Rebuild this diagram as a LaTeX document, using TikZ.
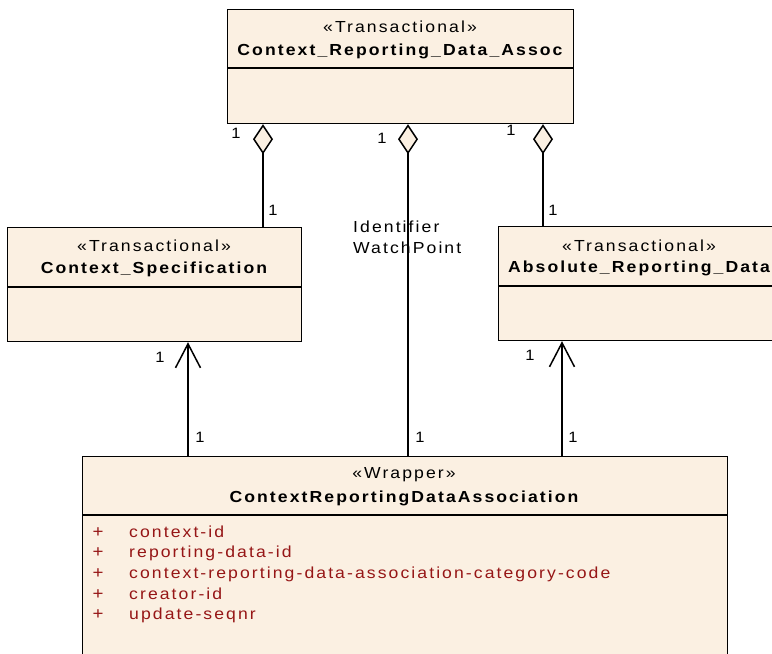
\documentclass[tikz,border=0pt]{standalone}
\usepackage{fontspec}
\setmainfont{Liberation Sans}[LetterSpace=13,FakeStretch=1.1]
\usetikzlibrary{arrows.meta,calc}
\definecolor{boxfill}{RGB}{251,240,226}
\definecolor{attr}{RGB}{150,22,22}
\begin{document}
\begin{tikzpicture}[x=1pt,y=-1pt,
  box/.style={draw, line width=1.2pt, fill=boxfill, inner sep=0pt, anchor=north west},
  sep/.style={line width=1.2pt},
  txt/.style={inner sep=0pt, anchor=base, font=\fontsize{16}{19}\selectfont},
  bold/.style={inner sep=0pt, anchor=base, font=\fontsize{16}{19}\selectfont\bfseries},
  mult/.style={inner sep=0pt, font=\fontsize{15}{18}\selectfont},
  attrtxt/.style={inner sep=0pt, anchor=base west, text=attr, font=\fontsize{16}{19}\selectfont},
  plus/.style={inner sep=0pt, anchor=base, text=attr, font=\fontsize{17}{19}\selectfont},
  agg/.style={line width=1.5pt, -{Diamond[length=30pt,width=20pt,fill=boxfill]}},
  nav/.style={line width=1.5pt, -{Straight Barb[length=24pt,width=25pt]}}]
\useasboundingbox (0,0) rectangle (772,654);
\clip (0,0) rectangle (772,654);
% boxes
\node[box, minimum width=346pt, minimum height=114pt] (top) at (227,9) {};
\node[box, minimum width=294pt, minimum height=114pt] (cs) at (7,227) {};
\node[box, minimum width=282pt, minimum height=114pt] (ard) at (498,226) {};
\node[box, minimum width=645pt, minimum height=220pt] (wr) at (82,456) {};
% separators
\draw[sep] (top.west |- 0,68) -- (top.east |- 0,68);
\draw[sep] (cs.west |- 0,287) -- (cs.east |- 0,287);
\draw[sep] (ard.west |- 0,286) -- (ard.east |- 0,286);
\draw[sep] (wr.west |- 0,515) -- (wr.east |- 0,515);
% texts
\node[txt] (topst) at (400,32) {«Transactional»};
\node[bold] (topnm) at (400,55) {Context\_Reporting\_Data\_Assoc};
\node[txt] (csst) at (154,251) {«Transactional»};
\node[bold] (csnm) at (154,273) {Context\_Specification};
\node[txt] (ardst) at (639,251) {«Transactional»};
\node[bold] (ardnm) at (639,272) {Absolute\_Reporting\_Data};
\node[txt] (wrst) at (404,478) {«Wrapper»};
\node[bold] (wrnm) at (404,502) {ContextReportingDataAssociation};
% attributes
\foreach \i/\t/\y in {1/context-id/537,2/reporting-data-id/557,3/context-reporting-data-association-category-code/578,4/creator-id/599,5/update-seqnr/619}{
  \node[plus] (p\i) at (98,\y) {+};
  \node[attrtxt] (a\i) at (129,\y) {\t};
}
% aggregation connectors
\coordinate (d1) at ($(top.south west)+(36,0)$);
\coordinate (d2) at ($(top.south west)+(181,0)$);
\coordinate (d3) at ($(top.south west)+(316,0)$);
\draw[agg] (cs.north -| d1) -- (d1);
\draw[agg] (wr.north -| d2) -- (d2);
\draw[agg] (ard.north -| d3) -- (d3);
% navigable associations
\coordinate (n1) at ($(wr.north west)+(106,0)$);
\coordinate (n2) at ($(wr.north west)+(480,0)$);
\draw[nav] (n1) -- (n1 |- cs.south);
\draw[nav] (n2) -- (n2 |- ard.south);
% labels
\node[txt, anchor=base west] (idl) at (353,232) {Identifier};
\node[txt, anchor=base west] (wpl) at (353,253) {WatchPoint};
\node[mult] (m1) at (236,133) {1};
\node[mult] (m2) at (273,210) {1};
\node[mult] (m3) at (382,138) {1};
\node[mult] (m4) at (511,130) {1};
\node[mult] (m5) at (553,210) {1};
\node[mult] (m6) at (160,357) {1};
\node[mult] (m7) at (200,437) {1};
\node[mult] (m8) at (420,437) {1};
\node[mult] (m9) at (530,355) {1};
\node[mult] (m10) at (573,437) {1};
\end{tikzpicture}
\end{document}
